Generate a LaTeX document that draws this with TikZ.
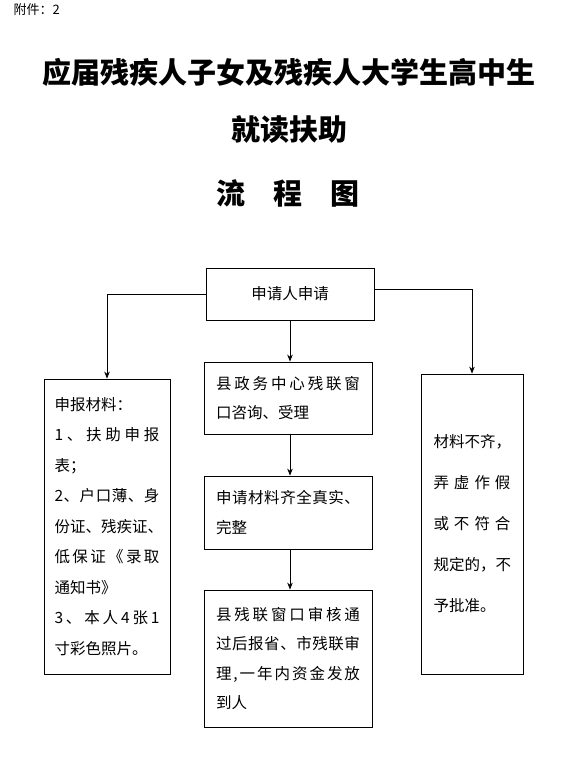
\documentclass[tikz,border=0pt]{standalone}
\usepackage{fontspec}
\setmainfont{Noto Sans CJK SC}
\usetikzlibrary{arrows.meta}
\newcommand\jfirst[1]{#1\jrest}
\def\jrest#1{\ifx#1\relax\else\hfil#1\expandafter\jrest\fi}
\newcommand\jl[2]{\makebox[#1][s]{\jfirst#2\relax}}
\tikzset{
  box/.style={draw, line width=0.8pt, inner sep=0pt},
  arr/.style={-{Stealth[length=7pt,width=5.5pt]}, line width=0.8pt},
  body/.style={font=\fontsize{15.5}{#1}\selectfont},
  ttl/.style={font=\fontsize{29}{29}\selectfont\bfseries}
}
\begin{document}
\begin{tikzpicture}[x=1pt,y=-1pt]
\useasboundingbox (0,0) rectangle (566,776);
\node[anchor=west, font=\fontsize{13}{13}\selectfont] (att) at (10,10) {附件：2};
\node[ttl] (t1) at (288.5,72) {应届残疾人子女及残疾人大学生高中生};
\node[ttl] (t2) at (289,130) {就读扶助};
\node[ttl] (t3) at (288,193) {流\hspace{28pt}程\hspace{28pt}图};

\node[box, body=18, minimum width=168pt, minimum height=52pt] (apply) at (290,294) {申请人申请};

\node[box, body=30.5, minimum width=126pt, minimum height=295pt, text width=105pt, align=left] (mat) at (107,526.5)
{申报材料：\\
\jl{105pt}{1、扶助申报}\\
表；\\
\jl{105pt}{2、户口薄、身}\\
\jl{105pt}{份证、残疾证、}\\
\jl{105pt}{低保证《录取}\\
通知书》\\
\jl{105pt}{3、本人4张1}\\
寸彩色照片。};

\node[box, body=29.5, minimum width=168pt, minimum height=72pt, text width=144pt, align=left] (c1) at (288,398)
{\jl{144pt}{县政务中心残联窗}\\
口咨询、受理};

\node[box, body=30, minimum width=168pt, minimum height=73pt, text width=144pt, align=left] (c2) at (288,512.5)
{\jl{144pt}{申请材料齐全真实、}\\
完整};

\node[box, body=29.5, minimum width=168pt, minimum height=137pt, text width=144pt, align=left] (c3) at (288,658.5)
{\jl{144pt}{县残联窗口审核通}\\
\jl{144pt}{过后报省、市残联审}\\
\jl{144pt}{理,一年内资金发放}\\
到人};

\node[box, body=41, minimum width=102pt, minimum height=300pt, text width=77pt, align=left] (rej) at (472,524)
{\jl{77pt}{材料不齐，}\\
\jl{77pt}{弄虚作假}\\
\jl{77pt}{或不符合}\\
\jl{77pt}{规定的，不}\\
予批准。};

\draw[arr] (apply.south) -- (apply.south |- c1.north);
\draw[arr] ([xshift=2pt]c1.south) -- ([xshift=2pt]c2.north);
\draw[arr] ([xshift=2pt]c2.south) -- ([xshift=2pt]c3.north);
\draw[arr] (apply.west) -| (mat.north);
\draw[arr] ([yshift=5pt]apply.east) -| (rej.north);
\end{tikzpicture}
\end{document}
